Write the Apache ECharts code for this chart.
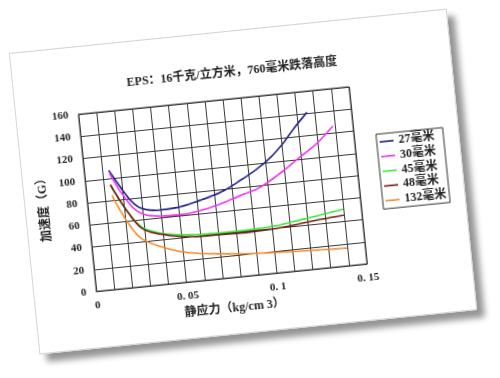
<!DOCTYPE html>
<html>
<head>
<meta charset="utf-8">
<script src="https://cdn.jsdelivr.net/npm/echarts@6/dist/echarts.min.js"></script>
<style>
  html, body { margin: 0; padding: 0; background: #ffffff; width: 500px; height: 378px; overflow: hidden; }
  #card {
    position: absolute; left: 23px; top: 29.5px; width: 440px; height: 303px;
    background: #ffffff; box-sizing: border-box; border: 1px solid #d6d6d6;
    transform: rotate(-5.8deg); transform-origin: 50% 50%;
    box-shadow: 7px 8px 6px rgba(0,0,0,0.42);
  }
  #chart { position: absolute; left: 0; top: 0; width: 438px; height: 301px; }
</style>
</head>
<body>
<div id="card"><div id="chart"></div></div>
<script>
const titleText = 'EPS：16千克/立方米，760毫米跌落高度';
const xAxisName = '静应力（kg/cm 3）';
const yAxisName = '加速度（G）';
const xTicks = [0, 0.05, 0.1, 0.15];
const xTickLabels = ['0', '0. 05', '0. 1', '0. 15'];
const seriesNames = ['27毫米', '30毫米', '45毫米', '48毫米', '132毫米'];
const seriesColors = ['#1c1c84', '#f032ee', '#33ea33', '#7a1616', '#f7882c'];

const s27 = [[0.0135,107],[0.019,91],[0.024,78],[0.029,70.5],[0.038,67],[0.048,67.5],[0.062,72],[0.074,77.5],[0.085,86],[0.095,95],[0.103,104],[0.111,116],[0.117,127],[0.1255,141]];
const s30 = [[0.0137,104.5],[0.019,86.5],[0.025,71],[0.0305,64.5],[0.0395,61.5],[0.0505,61],[0.062,63],[0.073,67],[0.0845,72.7],[0.096,78.5],[0.1095,91],[0.119,101.5],[0.129,112],[0.139,126.5]];
const s45 = [[0.0136,94],[0.02,73],[0.028,54],[0.037,47],[0.049,43],[0.06,41.5],[0.079,41],[0.093,41.5],[0.103,42.5],[0.112,44.5],[0.123,47],[0.14,51]];
const s48 = [[0.0136,94],[0.02,73],[0.028,53],[0.0367,46],[0.053,40.5],[0.069,39.5],[0.086,39],[0.1026,40],[0.1156,42],[0.127,44],[0.14,45.6]];
const s132 = [[0.0139,84.5],[0.0194,64],[0.0257,46.5],[0.0308,39.7],[0.0413,32],[0.052,26.5],[0.0665,23],[0.081,20.5],[0.0957,19],[0.11,17.8],[0.125,16.8],[0.14,16]];
const seriesData = [s27, s30, s45, s48, s132];

const fontFam = "'Liberation Serif', 'Noto Sans CJK SC', serif";
const chart = echarts.init(document.getElementById('chart'), null, { renderer: 'canvas' });
chart.setOption({
  animation: false,
  backgroundColor: 'transparent',
  title: {
    text: titleText, left: 'center', top: 30,
    textStyle: { fontFamily: fontFam, fontSize: 12, fontWeight: 'bold', color: '#222' }
  },
  legend: {
    orient: 'vertical', left: 356, top: 117,
    data: seriesNames,
    icon: 'rect', itemWidth: 14, itemHeight: 1.6, itemGap: 2.8,
    padding: [2, 3, 2, 3],
    borderColor: '#333', borderWidth: 1, backgroundColor: '#fff',
    textStyle: { fontFamily: fontFam, fontSize: 12, fontWeight: 'bold', color: '#222', lineHeight: 12 }
  },
  grid: { left: 62, top: 67, right: 104, bottom: 56, show: true, borderColor: '#3a3a3a', borderWidth: 1 },
  xAxis: {
    type: 'value', min: 0, max: 0.15, interval: 0.01,
    name: xAxisName, nameLocation: 'middle', nameGap: 25,
    nameTextStyle: { fontFamily: fontFam, fontSize: 12, fontWeight: 'bold', color: '#222' },
    axisLine: { show: true, lineStyle: { color: '#3a3a3a', width: 1 } },
    axisTick: { show: false },
    splitLine: { show: true, lineStyle: { color: '#3a3a3a', width: 1 } },
    axisLabel: {
      margin: 9, fontFamily: fontFam, fontSize: 11, fontWeight: 'bold', color: '#222',
      showMinLabel: true, showMaxLabel: true,
      formatter: function (v) {
        for (let i = 0; i < xTicks.length; i++) {
          if (Math.abs(v - xTicks[i]) < 1e-9) return xTickLabels[i];
        }
        return '';
      }
    }
  },
  yAxis: {
    type: 'value', min: 0, max: 160, interval: 20,
    name: yAxisName, nameLocation: 'middle', nameGap: 29, nameRotate: 90,
    nameTextStyle: { fontFamily: fontFam, fontSize: 12, fontWeight: 'bold', color: '#222' },
    axisLine: { show: true, lineStyle: { color: '#3a3a3a', width: 1 } },
    axisTick: { show: false },
    splitLine: { show: true, lineStyle: { color: '#3a3a3a', width: 1 } },
    axisLabel: { margin: 10, fontFamily: fontFam, fontSize: 11, fontWeight: 'bold', color: '#222' }
  },
  series: seriesNames.map(function (n, i) {
    return {
      name: n, type: 'line', data: seriesData[i], smooth: 0.35,
      showSymbol: false, symbol: 'none',
      itemStyle: { color: seriesColors[i] },
      lineStyle: { color: seriesColors[i], width: 1.6 }
    };
  })
});
</script>
</body>
</html>
